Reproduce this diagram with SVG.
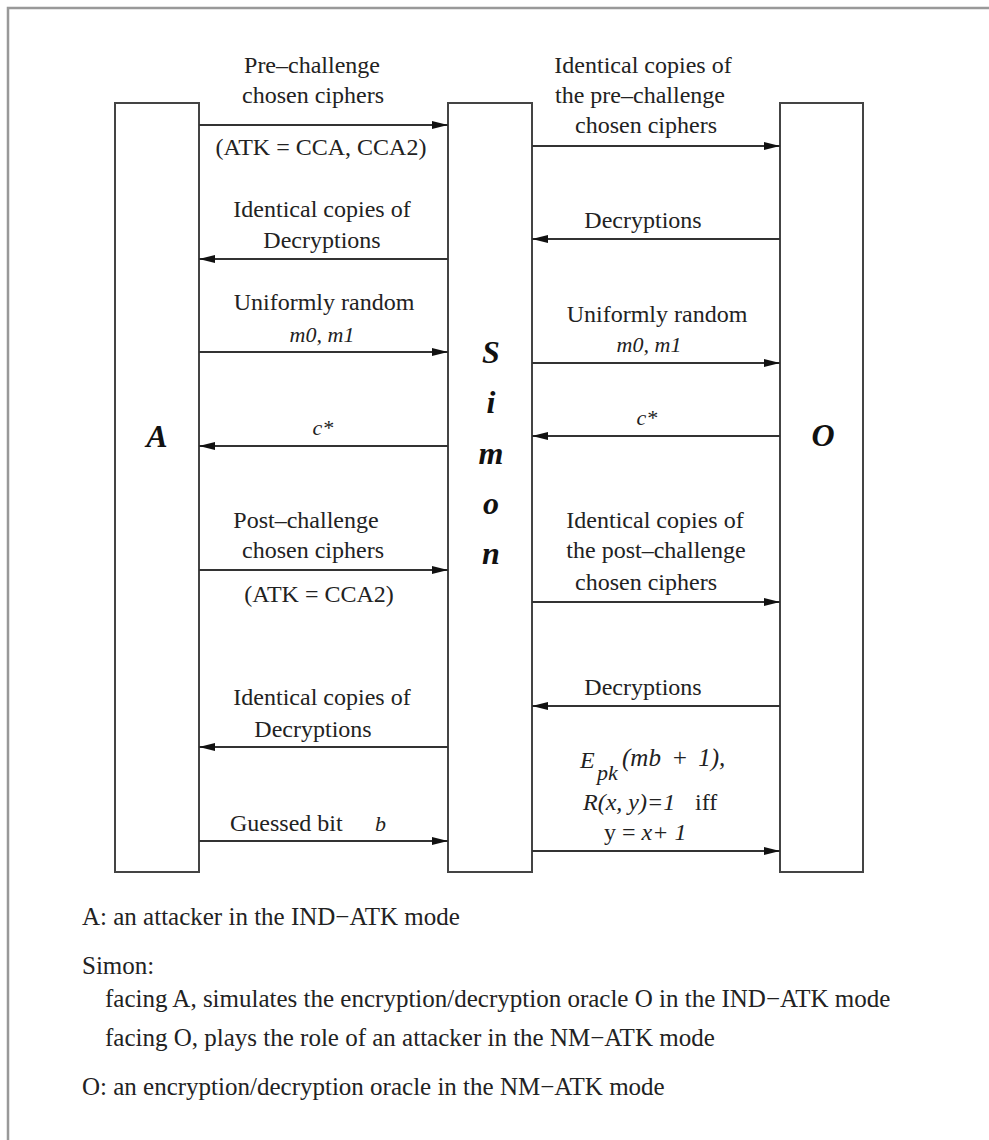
<svg xmlns="http://www.w3.org/2000/svg" width="989" height="1140" viewBox="0 0 989 1140">
<style>
.box{fill:#fff;stroke:#444;stroke-width:2}
.ln{stroke:#333;stroke-width:2;fill:none}
.t{font-family:"Liberation Serif","Times New Roman",serif;font-size:24px;fill:#222;text-anchor:middle}
.ts{font-family:"Liberation Serif","Times New Roman",serif;font-size:24px;fill:#222}
.ti{font-family:"Liberation Serif","Times New Roman",serif;font-size:22px;font-style:italic;fill:#222}
.tj{font-family:"Liberation Serif","Times New Roman",serif;font-size:24px;font-style:italic;fill:#222}
.big{font-family:"Liberation Serif","Times New Roman",serif;font-size:32px;font-weight:bold;font-style:italic;fill:#111;text-anchor:middle}
.n{font-family:"Liberation Serif","Times New Roman",serif;font-size:25px;fill:#222}
</style>
<defs>
<marker id="ah" viewBox="0 0 16 8" refX="16" refY="4" markerWidth="16" markerHeight="8" markerUnits="userSpaceOnUse" orient="auto">
<path d="M0,0 L16,4 L0,8 Z" fill="#111"/>
</marker>
</defs>
<rect width="989" height="1140" fill="#fff"/>
<path d="M8,1140 V8 H989" stroke="#999" stroke-width="2.5" fill="none"/>

<g id="A">
<rect class="box" x="115" y="103" width="84" height="769"/>
<text class="big" x="157" y="447">A</text>
</g>
<g id="Simon">
<rect class="box" x="448" y="103" width="84" height="769"/>
<text class="big" x="491" y="363">S</text>
<text class="big" x="491" y="413">i</text>
<text class="big" x="491" y="464">m</text>
<text class="big" x="491" y="514">o</text>
<text class="big" x="491" y="564">n</text>
</g>
<g id="O">
<rect class="box" x="780" y="103" width="83" height="769"/>
<text class="big" x="823" y="446">O</text>
</g>

<g id="connectors">
<line class="ln" x1="199" y1="125" x2="448" y2="125" marker-end="url(#ah)"/>
<line class="ln" x1="448" y1="259" x2="199" y2="259" marker-end="url(#ah)"/>
<line class="ln" x1="199" y1="352" x2="448" y2="352" marker-end="url(#ah)"/>
<line class="ln" x1="448" y1="446" x2="199" y2="446" marker-end="url(#ah)"/>
<line class="ln" x1="199" y1="570" x2="448" y2="570" marker-end="url(#ah)"/>
<line class="ln" x1="448" y1="747" x2="199" y2="747" marker-end="url(#ah)"/>
<line class="ln" x1="199" y1="841" x2="448" y2="841" marker-end="url(#ah)"/>

<line class="ln" x1="532" y1="146" x2="780" y2="146" marker-end="url(#ah)"/>
<line class="ln" x1="780" y1="239" x2="532" y2="239" marker-end="url(#ah)"/>
<line class="ln" x1="532" y1="363" x2="780" y2="363" marker-end="url(#ah)"/>
<line class="ln" x1="780" y1="436" x2="532" y2="436" marker-end="url(#ah)"/>
<line class="ln" x1="532" y1="602" x2="780" y2="602" marker-end="url(#ah)"/>
<line class="ln" x1="780" y1="706" x2="532" y2="706" marker-end="url(#ah)"/>
<line class="ln" x1="532" y1="851" x2="780" y2="851" marker-end="url(#ah)"/>
</g>

<g id="labels-left">
<text class="t" x="312" y="73">Pre–challenge</text>
<text class="t" x="313" y="103">chosen ciphers</text>
<text class="t" x="321" y="155">(ATK = CCA, CCA2)</text>
<text class="t" x="322" y="217">Identical copies of</text>
<text class="t" x="322" y="248">Decryptions</text>
<text class="t" x="324" y="310">Uniformly random</text>
<text class="ti" x="322" y="342" text-anchor="middle">m0, m1</text>
<text class="ti" x="323" y="435" text-anchor="middle">c*</text>
<text class="t" x="306" y="528">Post–challenge</text>
<text class="t" x="313" y="558">chosen ciphers</text>
<text class="t" x="319" y="602">(ATK = CCA2)</text>
<text class="t" x="322" y="705">Identical copies of</text>
<text class="t" x="313" y="737">Decryptions</text>
<text class="ts" x="230" y="831">Guessed bit</text>
<text class="ti" x="375" y="831">b</text>
</g>

<g id="labels-right">
<text class="t" x="643" y="73">Identical copies of</text>
<text class="t" x="640" y="103">the pre–challenge</text>
<text class="t" x="646" y="133">chosen ciphers</text>
<text class="t" x="643" y="228">Decryptions</text>
<text class="t" x="657" y="322">Uniformly random</text>
<text class="ti" x="649" y="352" text-anchor="middle">m0, m1</text>
<text class="ti" x="647" y="425" text-anchor="middle">c*</text>
<text class="t" x="655" y="528">Identical copies of</text>
<text class="t" x="656" y="558">the post–challenge</text>
<text class="t" x="646" y="590">chosen ciphers</text>
<text class="t" x="643" y="695">Decryptions</text>
<text class="tj" x="580" y="768">E</text>
<text class="ti" x="597" y="780">pk</text>
<text class="tj" x="622" y="766" style="font-size:25px;word-spacing:4px">(mb + 1),</text>
<text class="tj" x="583" y="810">R(x, y)=1</text>
<text class="ts" x="695" y="810">iff</text>
<text class="tj" x="604" y="840"><tspan font-style="normal">y = </tspan>x+ 1</text>
</g>

<g id="notes">
<text class="n" x="82" y="925">A: an attacker in the IND−ATK mode</text>
<text class="n" x="82" y="974">Simon:</text>
<text class="n" x="105" y="1007">facing A, simulates the encryption/decryption oracle O in the IND−ATK mode</text>
<text class="n" x="105" y="1046">facing O, plays the role of an attacker in the NM−ATK mode</text>
<text class="n" x="82" y="1095">O: an encryption/decryption oracle in the NM−ATK mode</text>
</g>
</svg>
